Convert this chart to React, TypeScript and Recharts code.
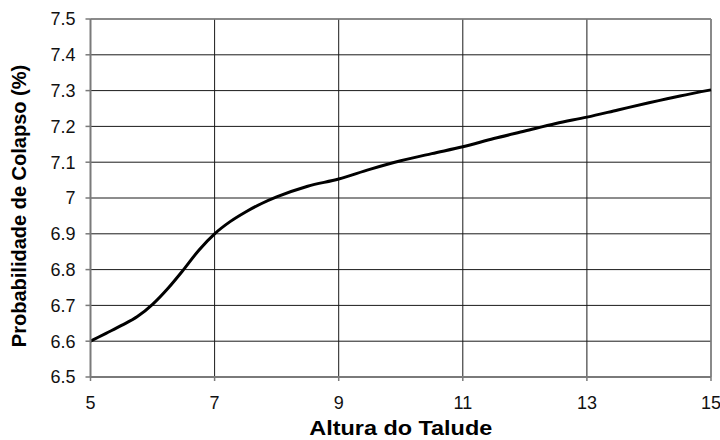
import React from 'react';
import { LineChart, Line, XAxis, YAxis, CartesianGrid, ReferenceLine } from 'recharts';

// altura do talude (x) vs probabilidade de colapso (%)
const alturas = [5, 5.25, 5.5, 5.75, 6, 6.25, 6.5, 6.75, 7, 7.25, 7.5, 7.75, 8, 8.5, 9, 9.5, 10, 10.5, 11, 11.5, 12, 12.5, 13, 13.5, 14, 14.5, 15];
const probabilidades = [6.6, 6.622, 6.644, 6.668, 6.703, 6.748, 6.8, 6.855, 6.9, 6.934, 6.961, 6.984, 7.003, 7.033, 7.053, 7.08, 7.104, 7.124, 7.143, 7.166, 7.187, 7.208, 7.226, 7.246, 7.266, 7.285, 7.302];

const xTicks = [5, 7, 9, 11, 13, 15];
const yTicks = [6.5, 6.6, 6.7, 6.8, 6.9, 7, 7.1, 7.2, 7.3, 7.4, 7.5];

const data = alturas.map((x, i) => ({ x, p: probabilidades[i] }));

const FONT = '"Liberation Sans", Arial, sans-serif';

export default function App() {
  return (
    <div style={{ position: 'absolute', left: 0, top: 0, width: 720, height: 440, background: '#fff' }}>
      <LineChart width={720} height={440} data={data} margin={{ top: 19, right: 9, bottom: 0, left: 0 }}>
        <CartesianGrid stroke="#1a1a1a" strokeWidth={1} />
        <XAxis
          type="number"
          dataKey="x"
          domain={[5, 15]}
          ticks={xTicks}
          height={63}
          tickSize={4}
          tickMargin={15}
          axisLine={{ stroke: '#7a7a7a', strokeWidth: 2 }}
          tickLine={{ stroke: '#7a7a7a', strokeWidth: 1.5 }}
          tick={{ fill: '#111', fontSize: 18, fontFamily: FONT }}
          label={({ viewBox }: any) => (
            <text
              x={viewBox.x + viewBox.width / 2}
              y={435}
              textAnchor="middle"
              fontFamily={FONT}
              fontWeight="bold"
              fontSize={20}
              textLength={183}
              lengthAdjust="spacingAndGlyphs"
              fill="#000"
            >
              Altura do Talude
            </text>
          )}
        />
        <YAxis
          type="number"
          domain={[6.5, 7.5]}
          ticks={yTicks}
          width={90.5}
          tickSize={5}
          tickMargin={10}
          interval={0}
          axisLine={{ stroke: '#7a7a7a', strokeWidth: 2 }}
          tickLine={{ stroke: '#7a7a7a', strokeWidth: 1.5 }}
          tick={{ fill: '#111', fontSize: 18, fontFamily: FONT }}
          tickFormatter={(v: number) => String(v)}
          label={() => (
            <text
              x={19}
              y={206}
              transform="rotate(-90 19 206)"
              textAnchor="middle"
              dominantBaseline="central"
              fontFamily={FONT}
              fontWeight="bold"
              fontSize={20}
              fill="#000"
            >
              Probabilidade de Colapso (%)
            </text>
          )}
        />
        <ReferenceLine y={7.5} stroke="#8a8a8a" strokeWidth={1.5} />
        <ReferenceLine x={15} stroke="#8a8a8a" strokeWidth={1.5} />
        <Line
          type="monotone"
          dataKey="p"
          stroke="#000"
          strokeWidth={3}
          dot={false}
          isAnimationActive={false}
        />
      </LineChart>
    </div>
  );
}
